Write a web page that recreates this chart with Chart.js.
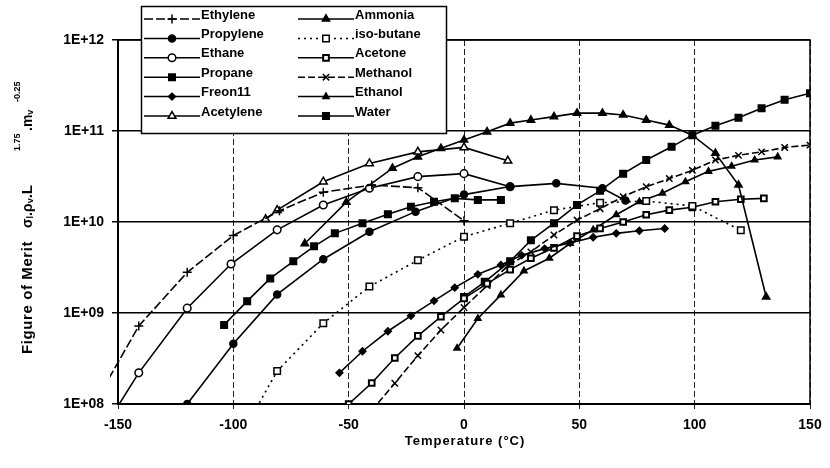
<!DOCTYPE html>
<html>
<head>
<meta charset="utf-8">
<script src="https://cdn.jsdelivr.net/npm/chart.js@4.4.0/dist/chart.umd.min.js"></script>
<style>
  html, body { margin: 0; background: #fff; }
  canvas { display: block; }
</style>
</head>
<body>
<canvas id="fom" width="830" height="468"></canvas>
<script>
// Temperatures (°C) and figure of merit per working fluid
const ethyleneT = [-154, -141, -120, -100, -80, -61, -40, -20, 0];
const ethyleneM = [1.9e8, 7.2e8, 2.8e9, 7.1e9, 1.33e10, 2.12e10, 2.55e10, 2.38e10, 1.03e10];

const propyleneT = [-120, -100, -81, -61, -41, -21, 0, 20, 40, 60, 70];
const propyleneM = [1.0e8, 4.6e8, 1.6e9, 3.9e9, 7.8e9, 1.3e10, 2.0e10, 2.45e10, 2.66e10, 2.35e10, 1.72e10];

const ethaneT = [-150, -141, -120, -101, -81, -61, -41, -20, 0, 20];
const ethaneM = [9.5e7, 2.2e8, 1.13e9, 3.45e9, 8.2e9, 1.54e10, 2.35e10, 3.15e10, 3.4e10, 2.44e10];

const propaneT = [-104, -94, -84, -74, -65, -56, -44, -33, -23, -13, -4, 6, 16];
const propaneM = [7.4e8, 1.35e9, 2.4e9, 3.7e9, 5.4e9, 7.5e9, 9.7e9, 1.22e10, 1.47e10, 1.67e10, 1.82e10, 1.75e10, 1.75e10];

const freonT = [-54, -44, -33, -23, -13, -4, 6, 16, 25, 35, 46, 56, 66, 76, 87];
const freonM = [2.2e8, 3.8e8, 6.3e8, 9.3e8, 1.36e9, 1.9e9, 2.66e9, 3.37e9, 4.3e9, 5.1e9, 5.9e9, 6.8e9, 7.5e9, 8.0e9, 8.5e9];

const acetyleneT = [-86, -81, -61, -41, -20, 0, 19];
const acetyleneM = [1.07e10, 1.35e10, 2.77e10, 4.4e10, 5.9e10, 6.6e10, 4.7e10];

const ammoniaT = [-69, -51, -31, -20, -10, 0, 10, 20, 29, 39, 49, 60, 69, 79, 89, 99, 109, 119, 131];
const ammoniaM = [5.8e9, 1.65e10, 3.9e10, 5.2e10, 6.45e10, 7.96e10, 9.8e10, 1.22e11, 1.32e11, 1.44e11, 1.57e11, 1.57e11, 1.5e11, 1.32e11, 1.16e11, 9.0e10, 5.7e10, 2.55e10, 1.5e9];

const isobutaneT = [-90, -81, -61, -41, -20, 0, 20, 39, 59, 79, 99, 120];
const isobutaneM = [9e7, 2.3e8, 7.7e8, 1.95e9, 3.8e9, 6.9e9, 9.7e9, 1.35e10, 1.63e10, 1.7e10, 1.5e10, 8.1e9];

const acetoneT = [-50, -40, -30, -20, -10, 0, 10, 20, 29, 39, 49, 59, 69, 79, 89, 99, 109, 120, 130];
const acetoneM = [1.0e8, 1.7e8, 3.2e8, 5.6e8, 9.1e8, 1.45e9, 2.1e9, 3.0e9, 4.0e9, 5.2e9, 7.0e9, 8.5e9, 1.0e10, 1.2e10, 1.35e10, 1.45e10, 1.67e10, 1.78e10, 1.82e10];

const methanolT = [-40, -30, -20, -10, 0, 10, 19, 29, 39, 49, 59, 69, 79, 89, 99, 109, 119, 129, 139, 150];
const methanolM = [8.5e7, 1.69e8, 3.4e8, 6.5e8, 1.15e9, 2.0e9, 3.3e9, 4.7e9, 7.2e9, 1.05e10, 1.4e10, 1.9e10, 2.44e10, 3.0e10, 3.7e10, 4.8e10, 5.4e10, 5.9e10, 6.6e10, 7.0e10];

const ethanolT = [-3, 6, 16, 26, 37, 46, 56, 66, 76, 86, 96, 106, 116, 126, 136];
const ethanolM = [4.1e8, 8.7e8, 1.58e9, 2.9e9, 4.0e9, 5.8e9, 8.2e9, 1.2e10, 1.67e10, 2.07e10, 2.77e10, 3.6e10, 4.1e10, 4.8e10, 5.2e10];

const waterT = [0, 9, 20, 29, 39, 49, 59, 69, 79, 90, 99, 109, 119, 129, 139, 150];
const waterM = [1.5e9, 2.2e9, 3.7e9, 6.3e9, 9.7e9, 1.54e10, 2.2e10, 3.4e10, 4.8e10, 6.7e10, 9.0e10, 1.14e11, 1.4e11, 1.78e11, 2.2e11, 2.6e11];

const xTicks = [-150, -100, -50, 0, 50, 100, 150];
const yTicks = [1e8, 1e9, 1e10, 1e11, 1e12];
const yTickLabels = ['1E+08', '1E+09', '1E+10', '1E+11', '1E+12'];

// name, temps, merits, marker, marker size, hollow marker, line dash
const fluids = [
  ['Ethylene',   ethyleneT,   ethyleneM,   'cross',     4.5, false, [9, 3]],
  ['Propylene',  propyleneT,  propyleneM,  'circle',    3.5, false, []],
  ['Ethane',     ethaneT,     ethaneM,     'circle',    3.8, true,  []],
  ['Propane',    propaneT,    propaneM,    'rect',      4.6, false, []],
  ['Freon11',    freonT,      freonM,      'rectRot',   3.4, false, []],
  ['Acetylene',  acetyleneT,  acetyleneM,  'triangle',  4.5, true,  []],
  ['Ammonia',    ammoniaT,    ammoniaM,    'triangle',  4.2, false, []],
  ['iso-butane', isobutaneT,  isobutaneM,  'rect',      4.6, true,  [2, 4]],
  ['Acetone',    acetoneT,    acetoneM,    'rect',      4.0, true,  []],
  ['Methanol',   methanolT,   methanolM,   'crossRot',  4.5, false, [7, 3]],
  ['Ethanol',    ethanolT,    ethanolM,    'triangle',  3.6, false, []],
  ['Water',      waterT,      waterM,      'rect',      4.6, false, []]
];

const datasets = fluids.map(([name, ts, ms, style, size, hollow, dash]) => ({
  label: name,
  data: ts.map((t, i) => ({ x: t, y: ms[i] })),
  showLine: true,
  borderColor: '#000',
  borderWidth: 1.6,
  borderDash: dash,
  tension: 0,
  pointStyle: style,
  pointRadius: c => (c.raw && (c.raw.x < -150 || c.raw.y < 1e8)) ? 0 : size,
  pointBackgroundColor: hollow ? '#fff' : '#000',
  pointBorderColor: '#000',
  pointBorderWidth: name === 'Acetone' ? 2 : 1.5,
  clip: name === 'Ethylene' ? { left: 8, top: 0, right: 0, bottom: 0 } : undefined
}));

const FONT = ' Arial, "Liberation Sans", sans-serif';

// legend box, frame and axis titles are painted by hand
const decor = {
  id: 'decor',
  afterDraw(chart) {
    const { ctx, chartArea: a } = chart;
    ctx.save();
    ctx.strokeStyle = '#000';
    ctx.lineWidth = 1.5;
    ctx.beginPath();
    ctx.moveTo(a.left, a.top);
    ctx.lineTo(a.right, a.top);
    ctx.lineTo(a.right, a.bottom);
    ctx.stroke();

    // legend
    ctx.fillStyle = '#fff';
    ctx.fillRect(141, 6, 305, 127);
    ctx.lineWidth = 1.5;
    ctx.strokeRect(141.5, 6.5, 305, 127);
    ctx.font = 'bold 13px' + FONT;
    ctx.textBaseline = 'middle';
    fluids.forEach(([name, , , style, size, hollow, dash], i) => {
      const col = Math.floor(i / 6), row = i % 6;
      const x0 = col ? 298 : 144, x1 = x0 + 56;
      const ty = 15 + row * 19.4, ly = ty + 4;
      ctx.strokeStyle = '#000';
      ctx.lineWidth = 1.5;
      ctx.setLineDash(dash);
      ctx.beginPath();
      ctx.moveTo(x0, ly);
      ctx.lineTo(x1, ly);
      ctx.stroke();
      ctx.setLineDash([]);
      ctx.fillStyle = hollow ? '#fff' : '#000';
      ctx.lineWidth = name === 'Acetone' ? 2 : 1.5;
      Chart.helpers.drawPoint(ctx, { pointStyle: style, radius: size, rotation: 0, borderWidth: ctx.lineWidth }, (x0 + x1) / 2, ly);
      ctx.fillStyle = '#000';
      ctx.fillText(name, x1 + 1, ty);
    });

    // x title
    ctx.font = 'bold 13px' + FONT;
    ctx.textAlign = 'center';
    ctx.letterSpacing = '1px';
    ctx.fillText('Temperature (\u00B0C)', 465, 441);

    // y title, rotated; each piece: text, font, baseline shift, letter spacing, start offset
    ctx.translate(28, 354);
    ctx.rotate(-Math.PI / 2);
    ctx.textAlign = 'left';
    const parts = [
      ['Figure of Merit', 'bold 15px', 0, 0.6, 0],
      ['\u03C3', 'bold 14px', 0, 0, 126],
      ['l', 'bold 9px', 3, 0],
      ['.\u03C1', 'bold 14px', 0, 0],
      ['v', 'bold 9px', 3, 0],
      ['.L', 'bold 15px', 0, 0],
      ['1.75', 'bold 9px', -10, 0, 203],
      ['.m', 'bold 14px', 0, 0, 223],
      ['v', 'bold 9px', 3, 0],
      ['-0.25', 'bold 9px', -10, 0, 252]
    ];
    let px = 0;
    parts.forEach(([t, f, dy, ls, at]) => {
      if (at !== undefined) px = at;
      ctx.font = f + FONT;
      ctx.letterSpacing = ls + 'px';
      ctx.fillText(t, px, dy);
      px += ctx.measureText(t).width;
    });
    ctx.restore();
  }
};

new Chart(document.getElementById('fom'), {
  type: 'scatter',
  data: { datasets },
  options: {
    responsive: false,
    animation: false,
    layout: { padding: { top: 40, right: 20, left: 0, bottom: 0 } },
    plugins: { legend: { display: false }, tooltip: { enabled: false } },
    scales: {
      x: {
        type: 'linear',
        min: -150,
        max: 150,
        afterBuildTicks: s => { s.ticks = xTicks.map(v => ({ value: v })); },
        afterFit: s => { s.height = 64; },
        grid: { color: '#222', lineWidth: 1, tickLength: 5 },
        border: { color: '#000', width: 2, dash: [6, 3] },
        ticks: { color: '#000', padding: 8, maxRotation: 0, font: { family: 'Arial', size: 14, weight: 'bold' } }
      },
      y: {
        type: 'logarithmic',
        min: 1e8,
        max: 1e12,
        afterBuildTicks: s => { s.ticks = yTicks.map(v => ({ value: v })); },
        afterFit: s => { s.width = 118; },
        grid: { color: '#000', lineWidth: 1.5, tickLength: 6 },
        border: { color: '#000', width: 2 },
        ticks: {
          color: '#000',
          padding: 8,
          font: { family: 'Arial', size: 14, weight: 'bold' },
          callback: v => yTickLabels[yTicks.indexOf(v)] || ''
        }
      }
    }
  },
  plugins: [decor]
});
</script>
</body>
</html>
